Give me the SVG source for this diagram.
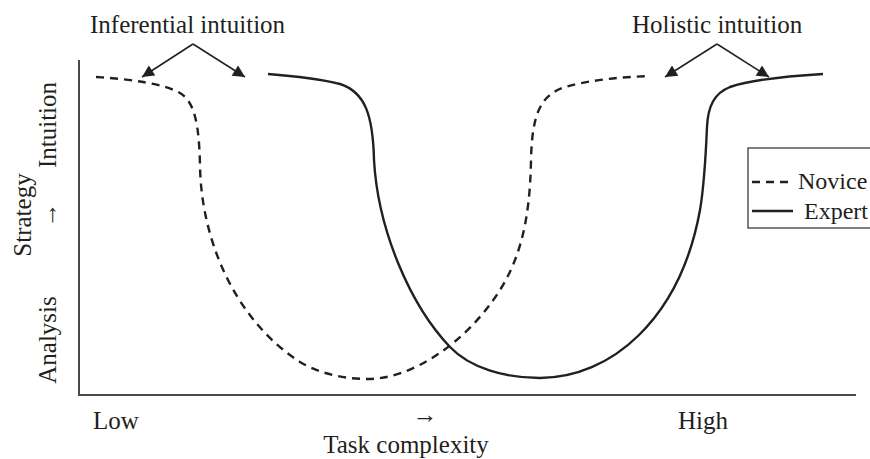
<svg xmlns="http://www.w3.org/2000/svg" width="870" height="459" viewBox="0 0 870 459">
<style>
text{font-family:"Liberation Serif","Times New Roman",serif;font-size:25px;fill:#231f20}
.axis{stroke:#4a4a4a;stroke-width:2;fill:none}
.novice{stroke:#231f20;stroke-width:2.4;fill:none;stroke-dasharray:8 6}
.expert{stroke:#231f20;stroke-width:2.4;fill:none}
.arr{stroke:#231f20;stroke-width:1.5;fill:none;marker-end:url(#ah)}
.leg{font-size:24px}
</style>
<defs>
<marker id="ah" viewBox="0 0 10 10" refX="10" refY="5" markerWidth="13" markerHeight="12" markerUnits="userSpaceOnUse" orient="auto">
<path d="M0,0 L10,5 L0,10 Z" fill="#231f20"/>
</marker>
</defs>
<rect width="870" height="459" fill="#ffffff"/>
<g id="axes">
<path class="axis" d="M79,60 L79,395 L856,395"/>
</g>
<g id="axis-labels">
<text transform="translate(56,125) rotate(-90)" text-anchor="middle">Intuition</text>
<text transform="translate(31,215) rotate(-90)" text-anchor="middle">Strategy</text>
<text transform="translate(57,215) rotate(-90)" text-anchor="middle">→</text>
<text transform="translate(56,340) rotate(-90)" text-anchor="middle">Analysis</text>
<text x="93" y="429">Low</text>
<text x="425" y="423" text-anchor="middle">→</text>
<text x="678" y="429">High</text>
<text x="406" y="453" text-anchor="middle">Task complexity</text>
</g>
<g id="novice-curve">
<path class="novice" d="M96,77 C130,79 165,84 180,93 C195,102 199,125 200,165 C201,240 235,320 300,362 C320,374 345,379 368,379 C410,379 465,345 500,290 C520,258 530,220 531,160 C532,115 540,95 565,87 C590,80 620,77 650,76"/>
</g>
<g id="expert-curve">
<path class="expert" d="M268,74 C295,76 320,79 340,84 C365,92 373,115 374,160 C378,230 410,305 450,347 C470,368 505,378 540,378 C610,378 680,320 700,210 C704,187 706,150 707,127 C708,105 715,93 730,87 C750,80 790,76 823,74"/>
</g>
<g id="inferential-label">
<text x="90" y="33">Inferential intuition</text>
</g>
<g id="holistic-label">
<text x="632" y="33">Holistic intuition</text>
</g>
<g id="connectors">
<path class="arr" d="M193,44 L142,77"/>
<path class="arr" d="M193,44 L245,77"/>
<path class="arr" d="M717,44 L665,77"/>
<path class="arr" d="M717,44 L769,77"/>
</g>
<g id="legend">
<rect x="748" y="148" width="130" height="80" fill="none" stroke="#555" stroke-width="1.5"/>
<line x1="752" y1="182" x2="793" y2="182" class="novice" stroke-dasharray="7 5"/>
<line x1="752" y1="211" x2="793" y2="211" class="expert"/>
<text class="leg" x="798" y="189">Novice</text>
<text class="leg" x="804" y="219">Expert</text>
</g>
</svg>
